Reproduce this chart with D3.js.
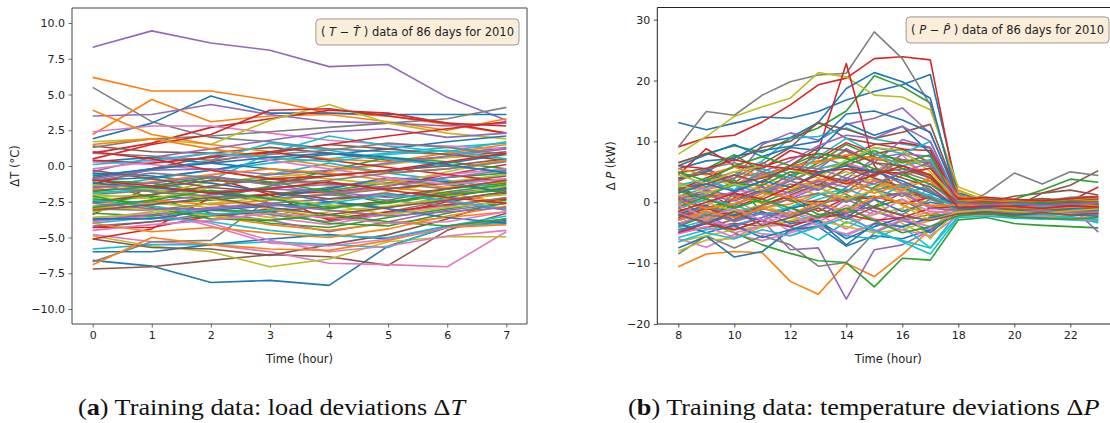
<!DOCTYPE html>
<html>
<head>
<meta charset="utf-8">
<script src="https://cdn.jsdelivr.net/npm/d3@7"></script>
<style>
  html, body { margin: 0; padding: 0; background: #fff; }
  svg { display: block; }
  .tick text { font-family: "DejaVu Sans", sans-serif; font-size: 11px; fill: #222; }
  .axlabel { font-family: "DejaVu Sans", sans-serif; font-size: 11.5px; fill: #222; }
  .boxtext { font-family: "DejaVu Sans", sans-serif; font-size: 11.5px; fill: #222; }
  .caption { font-family: "Liberation Serif", "DejaVu Serif", serif; font-size: 24px; fill: #111; }
</style>
</head>
<body>
<svg id="chart" width="1110" height="423"></svg>
<script>
// Hour positions of the two panels
const hoursT = [0, 1, 2, 3, 4, 5, 6, 7];
const hoursP = [8, 9, 10, 11, 12, 13, 14, 15, 16, 17, 18, 19, 20, 21, 22, 23];

// Tick labels
const tTicks = [-10, -7.5, -5, -2.5, 0, 2.5, 5, 7.5, 10];
const pTicks = [-20, -10, 0, 10, 20, 30];
const hourTicksT = [0, 1, 2, 3, 4, 5, 6, 7];
const hourTicksP = [8, 10, 12, 14, 16, 18, 20, 22];

// Temperature deviation (T - T̂), one row per day, hours 0..7
const deltaT = [
  [-6.6,-7.0,-8.15,-8.0,-8.35,-5.6,-4.3,-3.9],
  [6.2,5.25,5.25,4.6,3.7,3.5,2.9,2.3],
  [-0.9,-1.8,-2.2,-2.0,-1.7,-1.2,-0.8,-0.5],
  [-3.4,-1.4,-0.8,-2.0,-3.8,-3.4,-2.5,-1.9],
  [8.3,9.45,8.6,8.1,6.95,7.1,4.8,3.2],
  [-7.2,-7.05,-6.6,-6.2,-6.35,-6.95,-4.5,-3.3],
  [-4.8,-5.3,-5.5,-6.0,-6.8,-6.9,-7.05,-4.6],
  [5.5,3.1,2.0,1.7,1.2,1.0,0.8,1.3],
  [-4.9,-5.6,-6.0,-7.05,-6.5,-5.3,-4.95,-4.95],
  [-1.5,-0.9,-0.3,0.2,0.5,0.9,1.3,1.6],
  [1.9,3.0,4.9,3.7,3.7,3.6,3.6,3.6],
  [2.2,4.65,3.1,3.5,3.6,3.1,2.5,3.3],
  [-1.0,-1.2,-1.8,-2.6,-3.0,-2.4,-1.6,-1.2],
  [0.9,1.6,2.7,3.3,3.9,3.7,3.0,2.3],
  [3.5,3.6,4.3,3.6,3.1,3.0,2.8,3.0],
  [1.4,1.0,0.9,1.3,0.9,0.4,0.6,1.0],
  [2.4,2.8,2.8,2.3,1.8,1.5,1.4,1.2],
  [1.3,1.9,2.1,2.4,2.7,3.0,3.3,4.1],
  [1.7,1.9,1.5,3.2,4.3,3.0,2.3,1.9],
  [-5.8,-5.5,-5.5,-5.3,-5.5,-5.7,-4.2,-4.0],
  [-6.0,-6.0,-5.5,-5.1,-4.8,-5.1,-4.2,-3.8],
  [3.9,2.2,1.5,1.0,0.5,0.3,0.9,1.5],
  [-2.3,-2.6,-2.4,-2.0,-1.5,-1.0,-1.3,-1.7],
  [0.5,1.5,2.2,3.9,4.0,3.5,3.0,2.8],
  [-0.4,0.6,1.2,1.8,2.4,2.6,2.0,2.3],
  [-5.1,-5.7,-5.8,-6.25,-5.5,-4.8,-3.7,-2.3],
  [-3.6,-3.4,-4.0,-5.2,-6.0,-5.6,-4.9,-4.5],
  [-6.7,-5.3,-5.2,-2.3,-2.0,-1.6,-1.2,-0.9],
  [-2.2,-2.0,-1.1,-0.8,-0.4,0.1,0.6,0.8],
  [-2.8,-2.4,-1.5,-0.6,0.2,-0.5,-1.0,-1.6],
  [-1.0,-0.8,-0.3,0.4,0.8,1.2,1.7,2.1],
  [-6.9,-5.0,-5.5,-5.8,-5.9,-5.2,-4.3,-4.1],
  [-1.1,-2.2,-3.3,-4.0,-4.3,-3.6,-3.0,-2.4],
  [-5.1,-4.4,-2.2,-2.0,-1.8,-1.4,-0.6,0.1],
  [-4.2,-3.9,-3.3,-3.8,-4.6,-3.9,-3.1,-2.6],
  [-0.8,-0.2,0.7,0.9,1.5,1.2,0.8,0.4],
  [-3.9,-3.5,-3.0,-3.6,-4.1,-3.3,-2.8,-2.2],
  [-2.0,-1.7,-1.8,-1.5,-1.3,-1.2,-1.6,-1.0],
  [-3.2,-2.6,-2.9,-3.6,-2.5,-1.8,-1.1,-0.6],
  [-1.9,-1.6,-1.0,0.9,2.1,1.4,1.0,1.7],
  [0.3,0.6,0.2,-0.2,-0.6,-0.4,0.2,0.8],
  [-2.5,-2.8,-3.5,-4.1,-4.5,-4.0,-3.6,-3.2],
  [-2.6,-2.1,-2.3,-1.4,-0.3,0.6,0.3,-0.2],
  [-1.3,-0.2,0.3,1.0,1.5,2.1,2.6,3.1],
  [-2.9,-2.5,-2.0,-1.6,-1.8,-2.2,-1.9,-1.5],
  [-4.3,-3.9,-3.5,-3.2,-2.8,-2.5,-2.0,-1.6],
  [0.3,0.1,-0.3,-0.9,-1.4,-1.0,-0.6,-0.2],
  [-3.0,-3.1,-2.6,-3.4,-3.9,-3.2,-2.4,-1.8],
  [-2.0,-2.3,-1.5,-0.5,-0.9,-1.3,-0.4,0.4],
  [-0.6,-0.3,0.4,1.6,1.1,0.5,0.0,-0.4],
  [-0.5,-0.7,-1.2,-1.8,-2.5,-2.9,-2.2,-1.5],
  [-3.0,-2.4,-2.7,-2.4,-1.9,-1.5,-1.9,-2.6],
  [-3.3,-3.5,-3.1,-3.2,-4.0,-4.2,-3.3,-2.6],
  [-4.3,-4.3,-3.5,-3.0,-3.7,-3.2,-2.7,-2.3],
  [-0.9,-0.3,-0.2,-0.6,-0.3,0.2,0.7,1.2],
  [-1.7,-1.5,-1.0,-1.2,-0.7,-0.3,0.0,0.5],
  [-3.7,-3.2,-4.2,-5.4,-5.6,-5.1,-4.3,-3.7],
  [0.9,0.7,0.4,0.8,1.1,1.6,1.3,0.8],
  [-1.3,-1.6,-2.3,-3.0,-3.6,-2.9,-2.1,-1.4],
  [-4.0,-3.6,-3.9,-4.5,-4.9,-5.0,-4.2,-3.5],
  [-1.2,-1.5,-1.9,-2.2,-1.6,-0.8,-1.1,-1.9],
  [1.5,1.9,1.2,0.6,0.0,-0.5,-0.2,0.4],
  [-1.8,-1.4,-0.8,-1.1,-1.8,-2.6,-2.0,-1.7],
  [0.4,0.2,0.6,1.0,0.4,-0.1,-0.6,-1.1],
  [-3.8,-3.4,-2.9,-2.6,-2.3,-1.9,-2.5,-3.1],
  [-2.5,-2.0,-1.4,-0.9,-1.2,-1.6,-1.2,-0.7],
  [-0.2,0.3,0.9,0.4,-0.2,-0.8,-1.3,-0.9],
  [-1.4,-1.8,-2.1,-2.3,-2.0,-2.4,-2.8,-2.2],
  [-2.8,-3.1,-3.5,-3.8,-3.2,-2.8,-2.3,-2.0],
  [0.1,0.4,0.9,0.6,0.3,0.8,1.1,0.5],
  [-3.7,-3.7,-3.1,-2.8,-2.5,-3.0,-3.6,-4.0],
  [-1.6,-1.1,-0.6,-0.2,-0.5,-1.0,-1.5,-1.1],
  [-2.1,-2.9,-3.7,-3.8,-3.4,-3.9,-4.2,-3.7],
  [1.0,0.5,-0.3,-0.9,-0.7,-0.3,0.3,0.9],
  [-1.5,-1.2,-0.7,-1.3,-1.9,-1.4,-0.8,-0.3],
  [-0.3,-0.9,-1.5,-1.8,-2.3,-2.1,-1.6,-1.0],
  [-4.5,-4.1,-3.8,-3.3,-3.6,-4.0,-3.9,-3.2],
  [-1.0,-0.5,-0.8,-1.3,-1.0,-0.5,-0.2,0.3],
  [-3.6,-3.3,-2.6,-2.2,-2.7,-3.4,-2.9,-2.5],
  [-2.4,-2.8,-3.4,-3.1,-2.6,-2.0,-2.4,-3.0],
  [-0.7,-0.2,0.2,0.6,0.9,0.6,0.1,-0.5],
  [-4.0,-4.6,-4.3,-4.7,-5.0,-4.4,-3.5,-2.8],
  [-2.9,-2.4,-1.7,-2.3,-2.9,-2.6,-1.8,-1.3],
  [-1.0,-1.4,-1.9,-1.6,-1.1,-1.7,-2.2,-2.6],
  [-2.6,-3.0,-3.0,-2.7,-3.1,-3.5,-3.2,-2.9],
  [-3.1,-2.7,-2.2,-2.9,-3.4,-2.9,-2.4,-1.8]
];

// Load deviation (P - P̂) in kW, one row per day, hours 8..23
const deltaP = [
  [13.1,11.9,13.0,14.0,13.8,14.9,16.8,18.2,19.3,21.0,1.5,0.5,0.2,0.4,0.3,0.5],
  [-10.6,-8.5,-8.1,-8.3,-13.0,-15.1,-10.0,-12.2,-8.6,-4.5,-1.5,-1.0,-1.2,-0.8,-1.0,-0.6],
  [6.5,8.0,9.3,8.2,10.5,12.2,15.0,20.8,19.0,16.3,0.5,-0.5,-0.8,-1.0,-0.7,-1.2],
  [9.1,10.6,11.0,13.2,16.0,19.3,20.4,23.6,23.9,23.4,0.2,0.3,0.4,0.0,0.3,0.6],
  [-3.5,-2.0,-4.5,-3.0,-7.8,-7.5,-15.9,-7.8,-7.0,-4.6,-1.8,-1.5,-1.0,-1.3,-1.1,-0.8],
  [4.8,5.6,3.2,6.3,9.0,13.2,10.5,9.6,8.8,6.5,-0.8,-0.6,-0.9,-0.5,-0.8,-0.4],
  [-2.5,-1.3,0.4,-2.0,-4.8,-3.2,-1.0,-2.7,-4.0,-2.8,-1.4,-1.7,-1.4,-2.0,-1.8,-2.2],
  [9.1,14.9,14.3,17.6,19.8,20.9,21.2,28.0,23.6,16.0,1.2,0.6,0.4,0.2,0.4,0.7],
  [7.9,10.8,14.1,15.7,17.1,21.3,20.6,17.6,17.3,15.2,2.5,0.8,0.3,0.5,0.2,0.0],
  [-5.8,-4.5,-3.7,-2.5,-1.0,0.5,1.8,3.0,2.0,1.2,-1.9,-2.3,-2.0,-2.5,-2.3,-3.4],
  [5.5,6.8,7.2,9.8,10.6,13.1,18.7,21.3,19.8,17.1,-0.2,-0.8,-0.6,-0.9,-0.4,-0.7],
  [3.2,2.1,3.0,4.6,5.9,6.8,7.4,7.0,6.7,6.9,2.0,0.2,-0.5,-0.3,-0.2,0.1],
  [2.5,0.5,3.7,-1.8,-2.2,-0.6,2.5,5.4,3.0,1.8,-1.0,-0.9,-0.5,-1.2,-1.0,-0.6],
  [0.5,1.5,-0.8,0.9,4.0,8.5,22.8,6.0,1.5,-0.6,-0.8,-0.5,-0.3,-0.8,-0.5,-0.2],
  [4.0,5.2,3.8,9.5,11.4,10.2,12.8,13.8,15.5,11.3,1.0,0.1,-0.3,0.0,-0.4,-0.2],
  [-4.9,-4.1,-3.5,-3.9,-3.2,-2.5,-1.8,-0.6,1.5,0.5,-0.5,0.0,1.0,1.5,2.8,5.2],
  [-6.0,-7.4,-5.3,-6.3,-5.0,-3.8,-5.5,-3.5,-1.0,2.5,-0.8,-1.0,-1.2,-0.8,-1.6,-1.2],
  [-8.5,-5.5,-7.5,-5.5,-7.0,-10.5,-9.9,-5.0,-3.0,-2.0,-1.0,1.5,4.8,3.0,5.0,4.4],
  [-8.0,-6.2,-6.0,-4.0,-3.0,-2.2,-1.0,0.5,-3.5,-5.8,1.8,0.4,-0.8,-1.3,-1.5,-1.8],
  [1.0,2.4,4.5,6.8,10.5,10.8,12.2,10.4,9.6,8.9,-0.3,-1.0,-0.8,-0.5,-1.1,-0.9],
  [-7.5,-5.6,-9.0,-8.1,-4.5,-4.0,-7.2,-5.5,-6.0,-4.5,-1.2,-1.5,-1.8,-1.4,-1.6,-2.0],
  [1.8,2.6,4.0,4.8,3.6,5.5,6.3,4.8,6.9,4.2,0.8,-0.5,-0.7,-0.9,-0.6,-0.9],
  [-1.5,-3.3,-5.0,-7.0,-8.4,-9.6,-9.9,-13.9,-9.2,-9.5,-2.9,-2.5,-3.5,-3.8,-4.0,-4.2],
  [-0.9,-3.5,0.8,2.6,0.2,0.1,0.4,0.8,1.6,0.9,-0.4,-0.2,-0.4,0.1,0.2,2.5],
  [0.3,-0.8,-1.5,-1.2,0.6,2.4,3.8,7.2,8.0,7.5,0.3,-0.2,-0.5,-0.3,-0.6,-4.9],
  [2.0,0.8,1.6,3.5,6.0,4.8,6.1,7.8,7.0,6.5,-0.5,-0.4,-0.8,1.5,2.0,1.2],
  [-3.5,-2.0,-5.0,-4.0,-3.6,-2.0,-4.4,-1.4,-2.8,-1.5,-2.0,-1.8,-2.3,-2.1,-2.5,-2.4],
  [1.5,3.5,5.0,4.0,5.5,7.6,6.0,4.2,7.0,5.8,0.8,0.1,0.4,0.2,0.8,1.0],
  [-2.8,-1.2,-0.2,1.0,2.5,1.2,3.4,3.8,2.2,-0.5,-1.0,-1.3,-1.6,-1.3,-1.7,-1.5],
  [-4.2,-3.0,-2.2,-3.0,-4.0,-6.2,-3.2,-4.8,-6.3,-7.5,-2.3,-2.0,-2.4,-2.7,-2.9,-3.1],
  [4.0,5.0,7.5,8.5,9.2,10.0,14.5,15.0,13.5,11.5,0.5,-0.2,0.0,-0.4,-0.1,0.2],
  [-0.5,0.8,1.2,-0.2,1.0,2.8,3.5,2.2,4.4,5.6,0.0,-0.6,-0.4,-0.8,-0.5,-0.3],
  [0.5,-2.5,1.5,0.0,1.8,3.6,1.3,-0.8,0.5,-2.2,-1.8,-1.5,-2.0,-1.7,-2.2,-1.9],
  [4.5,8.8,6.0,5.8,7.3,8.0,7.5,9.5,9.8,9.0,0.5,0.0,-0.3,-0.6,-0.4,-0.2],
  [-1.8,-0.5,1.8,4.5,6.0,5.5,8.8,6.5,10.3,9.0,-0.7,-0.9,-1.2,-0.9,-1.3,-1.1],
  [-5.0,-4.2,-2.8,-0.5,1.2,3.0,1.8,4.8,5.5,4.0,-1.2,-0.8,-1.0,-0.9,-0.6,-0.8],
  [3.0,2.0,4.5,2.4,1.0,2.6,0.0,3.8,1.7,-0.8,-1.5,-1.2,-1.6,-1.9,-1.4,-1.7],
  [-1.0,0.5,-0.5,1.5,3.0,2.0,4.5,6.5,5.0,3.5,-0.5,-1.0,-1.3,-1.0,-1.4,-1.2],
  [2.5,4.0,2.8,4.2,2.5,3.5,5.0,3.0,1.5,-2.5,-1.5,-1.8,-1.4,-1.9,-2.1,-1.6],
  [-3.0,-1.8,-1.0,0.5,-1.5,-3.5,-5.5,-6.0,-4.0,-7.5,-1.5,-1.9,-2.2,-2.0,-2.6,-2.8],
  [6.0,7.8,9.5,7.5,9.0,8.5,13.0,11.0,12.5,8.0,-1.0,-0.6,-0.8,-0.5,-0.8,-1.0],
  [-1.2,-2.8,-1.5,-0.8,-0.3,1.5,0.2,2.0,-0.5,-2.0,-0.9,-0.7,-1.0,-0.6,-0.9,-0.5],
  [3.5,5.5,7.8,5.0,4.0,6.5,9.5,7.5,5.6,4.5,-0.3,-0.5,-0.2,-0.6,-0.3,-0.5],
  [2.0,4.0,5.8,5.5,8.5,7.2,9.8,8.0,8.7,8.5,-0.2,-0.4,0.0,0.3,0.1,-0.3],
  [-4.8,-3.2,-4.0,-2.5,-0.8,-2.5,0.5,-1.5,-3.0,-4.5,-1.0,-1.3,-0.9,-1.2,-0.8,-1.0],
  [6.5,8.0,6.8,9.0,10.0,13.0,12.0,10.5,11.5,12.8,0.8,0.4,0.2,0.6,0.3,0.5],
  [1.0,-0.5,2.0,1.5,4.0,3.2,6.5,5.0,7.8,3.5,-0.6,-0.3,-0.8,-0.5,-0.9,-1.2],
  [5.0,2.5,4.0,6.5,4.5,6.0,8.5,4.5,8.0,6.0,-0.8,-1.2,-1.0,-1.4,-1.1,-1.3],
  [-6.5,-5.5,-4.5,-4.0,-2.5,-3.0,-4.0,-5.0,-4.5,-3.0,-2.0,-2.2,-2.5,-2.3,-2.7,-2.4],
  [0.0,1.5,2.8,1.5,3.5,5.5,6.6,9.0,8.0,10.0,0.2,-0.4,-0.2,-0.7,-0.5,-0.4],
  [-2.0,-0.5,-3.0,-1.5,-3.5,-3.0,-6.0,-4.0,-2.5,-5.0,-1.4,-1.6,-1.3,-1.5,-1.2,-1.4],
  [5.5,4.5,5.8,4.2,6.0,6.5,7.8,7.3,6.5,6.8,1.0,0.3,0.0,-0.2,0.1,0.3],
  [-4.0,-2.2,-0.5,2.0,0.5,-2.0,-1.5,2.5,5.0,2.0,-1.2,-0.5,0.5,2.0,3.8,3.3],
  [-2.5,-1.0,-2.3,-0.5,1.0,-1.5,0.7,1.0,-0.3,0.8,-0.6,-0.8,-0.5,-0.9,-0.3,-0.6],
  [2.0,3.5,2.0,5.0,6.8,9.3,11.0,10.5,12.5,10.0,0.0,-0.3,-0.6,-0.5,-0.2,-0.5],
  [0.8,-1.0,0.5,2.0,4.5,2.8,5.5,4.0,2.5,0.5,-0.3,-0.6,-0.8,-0.7,-0.5,-0.9],
  [-1.8,-3.0,-4.0,-5.2,-5.5,-4.0,-5.2,-3.5,-4.5,-5.5,-2.2,-2.0,-2.5,-2.3,-2.8,-3.0],
  [3.5,5.5,6.5,5.0,3.5,5.5,4.0,2.0,3.0,0.5,0.0,-0.2,0.0,-0.3,-0.1,-0.2],
  [1.2,0.0,-1.5,-0.5,-2.0,-0.8,-3.5,-2.0,-1.0,-6.0,-1.0,-0.8,-1.1,-0.7,-1.2,-0.9],
  [2.8,3.8,2.0,5.5,4.0,7.5,10.5,8.0,6.0,7.0,-1.0,-1.2,-1.5,-1.3,-1.0,-1.4],
  [-3.5,-5.0,-3.8,-5.8,-4.5,-3.0,-7.0,-3.5,-4.0,-2.5,-1.7,-1.9,-2.1,-1.8,-2.0,-2.3],
  [1.0,1.8,0.5,3.0,2.0,3.8,3.2,1.5,3.0,3.5,0.5,0.0,0.3,0.1,0.4,0.8],
  [-0.8,1.0,3.0,2.8,5.0,4.5,6.5,8.5,6.5,7.8,-0.6,-0.9,-1.1,-0.8,-1.3,-1.0],
  [-5.0,-3.5,-4.5,-3.0,-4.0,-2.5,-2.0,-3.0,-2.5,-1.0,-0.7,-1.0,-0.8,-1.1,-0.9,-1.2],
  [0.5,2.0,1.0,2.5,1.5,3.5,2.5,5.5,3.0,2.0,-0.9,-1.1,-0.7,-1.0,-0.8,-0.6],
  [3.8,4.8,3.0,4.0,5.5,4.5,3.5,5.5,4.0,2.5,-1.1,-1.4,-1.2,-1.6,-1.3,-1.5],
  [-5.2,-4.0,-5.8,-3.5,-2.0,-3.8,-2.0,-4.8,-2.8,-4.0,-1.6,-1.4,-1.7,-1.5,-1.9,-1.7],
  [-2.2,-0.8,-2.0,-0.5,0.5,1.5,0.0,2.0,1.0,3.0,-0.4,-0.7,-0.5,-0.8,-0.6,-0.4],
  [4.5,3.0,5.0,6.0,5.5,4.0,7.0,9.0,8.5,5.0,0.2,-0.2,-0.5,-0.4,-0.7,-0.3],
  [-1.0,0.5,-0.5,-2.0,-0.8,1.2,2.2,0.5,2.8,1.0,-0.8,-0.5,-0.9,-0.6,-1.0,-1.3],
  [-4.5,-3.5,-2.0,-3.0,-1.0,0.0,-2.5,0.5,-1.5,0.0,-0.9,-1.2,-1.5,-1.2,-1.0,-1.4],
  [0.2,-1.0,-0.3,1.5,0.8,-0.5,1.5,3.5,2.0,4.0,-0.1,-0.5,-0.8,-0.5,-0.7,-0.4],
  [5.0,3.5,6.0,7.5,6.0,8.0,7.2,5.5,4.5,3.0,0.1,-0.2,0.0,-0.1,0.2,0.0],
  [6.0,5.5,7.0,6.0,5.5,5.0,5.5,5.0,4.8,5.6,0.5,0.8,0.5,0.2,0.6,0.9],
  [-2.8,-1.5,-3.2,-1.8,-2.5,-0.5,-1.8,0.5,1.5,-1.0,-1.3,-1.5,-1.8,-1.6,-1.9,-2.1],
  [2.2,3.0,4.5,3.2,6.0,9.0,8.5,6.5,6.0,4.0,-0.2,0.1,-0.2,-0.4,0.0,-0.3],
  [-0.5,-2.5,-1.0,-3.0,-1.5,-2.8,-0.5,-2.0,0.5,-1.5,-1.7,-1.3,-1.6,-1.4,-1.8,-1.6],
  [-3.8,-2.0,-3.0,-1.0,-2.0,-0.5,1.0,-1.0,-2.0,0.5,-1.3,-1.5,-1.7,-1.4,-1.6,-1.9],
  [3.0,1.5,3.0,2.0,3.5,2.5,0.5,2.0,-0.5,-3.0,-1.6,-1.2,-1.5,-1.8,-1.4,-1.1],
  [-6.5,-5.0,-6.0,-4.5,-5.5,-4.0,-2.5,-4.5,-6.5,-8.5,-2.5,-2.3,-2.6,-2.8,-2.5,-2.9],
  [1.5,3.0,1.8,3.5,2.5,4.8,6.0,5.0,3.5,1.5,-0.5,-0.9,-0.6,-0.3,-0.6,-0.8],
  [-3.0,-1.5,-2.5,-1.0,-2.0,0.0,-1.5,1.0,0.0,-0.5,-0.4,-0.6,-0.9,-1.1,-0.8,-0.7],
  [1.8,0.5,-1.0,0.5,-1.0,-2.5,-1.0,-3.0,-5.0,-4.0,-2.2,-1.8,-2.4,-2.6,-2.8,-2.5],
  [-1.5,0.0,1.5,0.5,2.5,4.5,3.0,4.5,6.0,4.5,-0.9,-0.6,-0.7,-1.0,-0.6,-0.8],
  [-0.2,1.2,0.2,1.8,3.5,2.0,4.0,3.0,5.0,6.5,-0.1,-0.4,-0.2,-0.5,-0.3,-0.1],
  [-2.0,-3.5,-1.5,-3.8,-2.5,-1.0,-2.8,-0.8,-2.2,-3.0,-1.9,-1.6,-2.0,-1.7,-2.1,-1.8]
];

// matplotlib's default colour cycle
const tab10 = ["#1f77b4", "#ff7f0e", "#2ca02c", "#d62728", "#9467bd",
               "#8c564b", "#e377c2", "#7f7f7f", "#bcbd22", "#17becf"];

const svg = d3.select("#chart");

function drawPanel(cfg) {
  const x = d3.scaleLinear().domain(cfg.xDomain).range([cfg.left, cfg.right]);
  const y = d3.scaleLinear().domain(cfg.yDomain).range([cfg.bottom, cfg.top]);
  const g = svg.append("g");

  // clip the series to the axes area
  const clipId = "clip-" + cfg.id;
  svg.append("defs").append("clipPath").attr("id", clipId)
    .append("rect")
    .attr("x", cfg.left).attr("y", cfg.top)
    .attr("width", cfg.right - cfg.left).attr("height", cfg.bottom - cfg.top);

  const line = d3.line()
    .x((d, i) => x(cfg.hours[i]))
    .y(d => y(d));

  g.append("g").attr("clip-path", `url(#${clipId})`)
    .selectAll("path")
    .data(cfg.series)
    .join("path")
    .attr("d", line)
    .attr("fill", "none")
    .attr("stroke", (d, i) => tab10[i % 10])
    .attr("stroke-width", 1.6)
    .attr("stroke-linejoin", "round")
    .attr("stroke-linecap", "butt");

  // axes
  const xAxis = d3.axisBottom(x).tickValues(cfg.xTicks).tickFormat(d3.format("d"))
    .tickSize(3.5).tickPadding(3.5);
  const yAxis = d3.axisLeft(y).tickValues(cfg.yTicks).tickFormat(cfg.yFormat)
    .tickSize(3.5).tickPadding(3.5);

  const gx = g.append("g").attr("transform", `translate(0,${cfg.bottom})`).call(xAxis);
  const gy = g.append("g").attr("transform", `translate(${cfg.left},0)`).call(yAxis);
  [gx, gy].forEach(a => {
    a.select(".domain").remove();
    a.selectAll(".tick line").attr("stroke", cfg.spine).attr("stroke-width", 0.8);
    a.selectAll(".tick text").attr("fill", "#222");
  });

  // frame
  const frame = g.append("g").attr("fill", "none").attr("stroke", cfg.spine).attr("stroke-width", 1);
  frame.append("line").attr("x1", cfg.left).attr("x2", cfg.left).attr("y1", cfg.top).attr("y2", cfg.bottom);
  frame.append("line").attr("x1", cfg.left).attr("x2", cfg.right).attr("y1", cfg.bottom).attr("y2", cfg.bottom);
  frame.append("line").attr("x1", cfg.left).attr("x2", cfg.right).attr("y1", cfg.top).attr("y2", cfg.top);
  frame.append("line").attr("x1", cfg.right).attr("x2", cfg.right).attr("y1", cfg.top).attr("y2", cfg.bottom);

  // axis labels
  g.append("text").attr("class", "axlabel")
    .attr("x", (cfg.left + cfg.right) / 2).attr("y", cfg.bottom + 39)
    .attr("text-anchor", "middle").text("Time (hour)");

  const yl = g.append("text").attr("class", "axlabel")
    .attr("transform", `translate(${cfg.yLabelX},${(cfg.top + cfg.bottom) / 2}) rotate(-90)`)
    .attr("text-anchor", "middle");
  cfg.yLabel.forEach(p => {
    const t = yl.append("tspan").text(p.t);
    if (p.i) t.attr("font-style", "italic");
  });

  // annotation box
  const bt = g.append("text").attr("class", "boxtext")
    .attr("x", cfg.box.x).attr("y", cfg.box.y).attr("text-anchor", "end");
  cfg.box.parts.forEach(p => {
    const t = bt.append("tspan").text(p.t);
    if (p.i) t.attr("font-style", "italic");
  });
  const bb = bt.node().getBBox();
  g.insert("rect", "text.boxtext")
    .attr("x", bb.x - 5).attr("y", bb.y - 6)
    .attr("width", bb.width + 10).attr("height", bb.height + 12)
    .attr("rx", 4).attr("ry", 4)
    .attr("fill", "#faeed9").attr("stroke", "#9a9a9a").attr("stroke-width", 1);
}

drawPanel({
  id: "t", hours: hoursT, series: deltaT,
  left: 72, right: 527, top: 8, bottom: 324,
  xDomain: [-0.35, 7.35], yDomain: [-11.05, 11.05],
  xTicks: hourTicksT, yTicks: tTicks, yFormat: d3.format(".1f"),
  spine: "#444", yLabelX: 19,
  yLabel: [{ t: "ΔT (°C)" }],
  box: { x: 514, y: 36, parts: [{ t: "( " }, { t: "T", i: true }, { t: " − " }, { t: "T\u0302", i: true }, { t: " ) data of 86 days for 2010" }] }
});

drawPanel({
  id: "p", hours: hoursP, series: deltaP,
  left: 657.3, right: 1119.3, top: 7.5, bottom: 324,
  xDomain: [7.25, 23.75], yDomain: [-20, 32],
  xTicks: hourTicksP, yTicks: pTicks, yFormat: d3.format("d"),
  spine: "#222", yLabelX: 615,
  yLabel: [{ t: "Δ " }, { t: "P", i: true }, { t: " (kW)" }],
  box: { x: 1104, y: 34, parts: [{ t: "( " }, { t: "P", i: true }, { t: " − " }, { t: "P\u0302", i: true }, { t: " ) data of 86 days for 2010" }] }
});

// sub-figure captions
function caption(letter, body, sym, x0, x1, baseline) {
  const t = svg.append("text").attr("class", "caption").attr("x", 0).attr("y", 0);
  t.append("tspan").text("(");
  t.append("tspan").attr("font-weight", "bold").text(letter);
  t.append("tspan").text(") " + body + "Δ");
  t.append("tspan").attr("font-style", "italic").text(sym);
  const w = t.node().getBBox().width;
  t.attr("transform", `translate(${x0},${baseline}) scale(${(x1 - x0) / w},1)`);
}
caption("a", "Training data: load deviations ", "T", 78, 467, 415);
caption("b", "Training data: temperature deviations ", "P", 628, 1100, 415);
</script>
</body>
</html>
